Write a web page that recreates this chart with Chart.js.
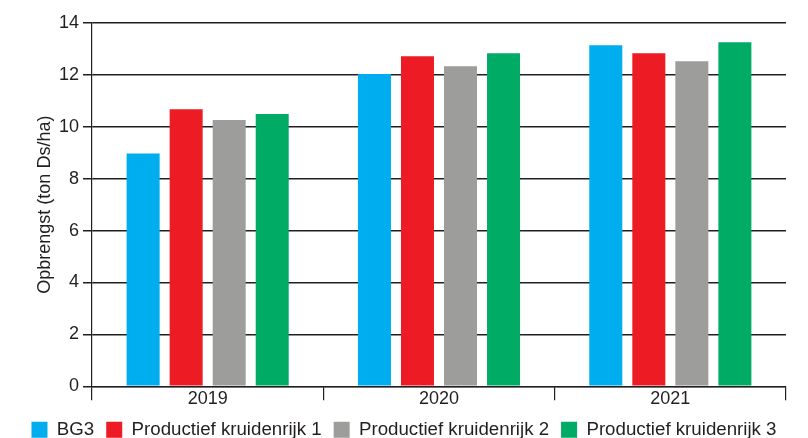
<!DOCTYPE html>
<html>
<head>
<meta charset="utf-8">
<script src="https://cdn.jsdelivr.net/npm/chart.js@4"></script>
<style>
    html, body { margin: 0; padding: 0; background: #fff; }
    #wrap { width: 808px; height: 438px; position: relative; }
</style>
</head>
<body>
<div id="wrap"><canvas id="myChart"></canvas></div>
<script>
const years = ['2019', '2020', '2021'];
const bg3 = [8.97, 12.03, 13.14];
const kruidenrijk1 = [10.68, 12.72, 12.83];
const kruidenrijk2 = [10.26, 12.33, 12.53];
const kruidenrijk3 = [10.49, 12.83, 13.26];
const yTicks = [0, 2, 4, 6, 8, 10, 12, 14];

const font = '"Liberation Sans", Arial, Helvetica, sans-serif';
const textColor = '#231f20';

function makeSet(label, data, color) {
    return {
        label: label,
        data: data,
        backgroundColor: color,
        borderWidth: 0,
        categoryPercentage: 0.744,
        barPercentage: 0.767
    };
}

const ctx = document.getElementById('myChart');
new Chart(ctx, {
    type: 'bar',
    data: {
        labels: years,
        datasets: [
            makeSet('BG3', bg3, '#00adef'),
            makeSet('Productief kruidenrijk 1', kruidenrijk1, '#ed1c24'),
            makeSet('Productief kruidenrijk 2', kruidenrijk2, '#9d9d9c'),
            makeSet('Productief kruidenrijk 3', kruidenrijk3, '#00ab66')
        ]
    },
    options: {
        responsive: true,
        maintainAspectRatio: false,
        animation: false,
        devicePixelRatio: 1,
        layout: {padding: {top: 23, right: 0, left: 0, bottom: -11}},
        scales: {
            x: {
                afterFit: (scale) => {
                    scale.height = 22;
                },
                grid: {
                    offset: true,
                    drawOnChartArea: false,
                    drawTicks: true,
                    tickLength: 14,
                    color: '#231f20',
                    lineWidth: 1.2
                },
                border: {color: '#231f20', width: 1.2},
                ticks: {
                    color: textColor,
                    font: {family: font, size: 18},
                    padding: -12
                }
            },
            y: {
                min: 0,
                max: 14,
                afterBuildTicks: (scale) => {
                    scale.ticks = yTicks.map(v => ({value: v}));
                },
                afterFit: (scale) => {
                    scale.width = 92;
                },
                grid: {
                    color: '#231f20',
                    lineWidth: 1.5,
                    drawTicks: true,
                    tickLength: 9
                },
                border: {color: '#231f20', width: 1.2},
                ticks: {
                    color: textColor,
                    font: {family: font, size: 18},
                    padding: 4
                },
                title: {
                    display: true,
                    text: 'Opbrengst (ton Ds/ha)',
                    color: textColor,
                    font: {family: font, size: 18},
                    padding: {top: 34, bottom: 4}
                }
            },
            // empty spacer on the right so the plot stops where the reference does
            spacer: {
                position: 'right',
                grid: {display: false},
                border: {display: false},
                ticks: {display: false},
                afterFit: (scale) => {
                    scale.width = 22;
                }
            }
        },
        plugins: {
            legend: {
                position: 'bottom',
                labels: {
                    color: textColor,
                    font: {family: font, size: 18.7},
                    boxWidth: 16,
                    boxHeight: 16,
                    padding: 12
                }
            },
            tooltip: {enabled: false}
        }
    }
});
</script>
</body>
</html>
